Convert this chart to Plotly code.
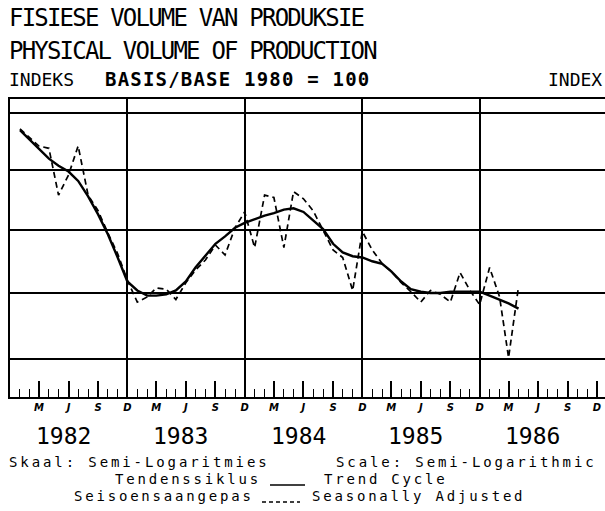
import math
import pandas as pd
import plotly.graph_objects as go

# ---------------- data ----------------
months = pd.date_range("1982-01-01", "1986-04-01", freq="MS")

trend_cycle = [
    113.5, 112.6, 111.8, 111.0, 110.4, 109.9, 109.1, 107.8, 106.3, 104.7, 102.8, 100.9,   # 1982
    100.2, 99.8, 99.8, 99.9, 100.2, 100.9, 102.0, 102.9, 103.9, 104.5, 105.2, 105.6,       # 1983
    105.9, 106.2, 106.4, 106.7, 106.8, 106.5, 105.8, 105.1, 103.9, 103.2, 102.9, 102.8,    # 1984
    102.5, 102.3, 101.7, 100.9, 100.3, 100.1, 100.0, 100.0, 100.1, 100.1, 100.1, 100.1,    # 1985
    99.8, 99.5, 99.2, 98.8,                                                                # 1986
]
seasonally_adjusted = [
    113.6, 112.8, 112.1, 111.9, 107.9, 109.6, 112.1, 107.9, 106.6, 104.8, 103.1, 101.0,   # 1982
    99.3, 99.7, 100.4, 100.3, 99.5, 100.8, 101.8, 102.6, 103.8, 103.0, 105.2, 106.5,       # 1983
    103.6, 107.9, 107.7, 103.6, 108.2, 107.6, 106.6, 105.0, 103.4, 102.8, 100.2, 104.9,    # 1984
    103.4, 102.3, 101.7, 100.8, 100.1, 99.3, 100.2, 99.9, 99.3, 101.6, 100.2, 99.1,        # 1985
    102.0, 99.7, 95.1, 100.5,                                                              # 1986
]

years = [1982, 1983, 1984, 1985, 1986]
quarter_letters = ["M", "J", "S", "D"]
quarter_months = [3, 6, 9, 12]
grid_values = [95, 100, 105, 110, 115]

# ---------------- geometry ----------------
W, H = 605, 511
L, R, T, B = 10, 0, 99, 114
PW, PH = W - L - R, H - T - B


def px(x):
    return (x - L) / PW


def py(y):
    return (H - B - y) / PH


x_ticks, x_text = [], []
for yr in years:
    for m, lab in zip(quarter_months, quarter_letters):
        d = pd.Timestamp(yr, m, 1)
        if d <= pd.Timestamp("1986-12-01"):
            x_ticks.append(d)
            x_text.append(lab)
dec_lines = [pd.Timestamp(yr, 12, 1) for yr in years[:-1]]

x_start = pd.Timestamp("1981-12-01")
x_end = x_start + pd.Timedelta(days=1851)

fig = go.Figure()
fig.add_trace(go.Scatter(
    x=months, y=seasonally_adjusted, mode="lines",
    line=dict(color="black", width=1.7, dash="6px,4px"), xaxis="x", yaxis="y",
    showlegend=False))
fig.add_trace(go.Scatter(
    x=months, y=trend_cycle, mode="lines",
    line=dict(color="black", width=2.4), xaxis="x", yaxis="y",
    showlegend=False))
# invisible helper trace so that the grid axis is drawn
fig.add_trace(go.Scatter(x=[months[0]], y=[trend_cycle[0]], mode="markers",
                         marker=dict(opacity=0), xaxis="x2", yaxis="y",
                         showlegend=False, hoverinfo="skip"))

fig.update_layout(
    width=W, height=H,
    margin=dict(l=L, r=R, t=T, b=B, pad=0),
    paper_bgcolor="white", plot_bgcolor="white",
    showlegend=False,
    xaxis=dict(
        type="date", range=[x_start, x_end],
        tickmode="array", tickvals=x_ticks, ticktext=x_text,
        ticks="inside", ticklen=16, tickwidth=1.5, tickcolor="black",
        tickfont=dict(family="DejaVu Sans", size=10, color="black", weight="bold", style="italic"),
        showgrid=False, zeroline=False,
        showline=True, linecolor="black", linewidth=2, mirror=True,
        minor=dict(dtick="M1", tick0="1981-12-01", ticks="inside", ticklen=8,
                   tickwidth=1.3, tickcolor="black", showgrid=False),
    ),
    xaxis2=dict(
        type="date", overlaying="x", matches="x", anchor="y",
        tickmode="array", tickvals=dec_lines, showticklabels=False, ticks="",
        showgrid=True, gridcolor="black", gridwidth=2, showline=False, zeroline=False,
    ),
    yaxis=dict(
        type="log", range=[math.log10(92.24), math.log10(116.27)],
        tickmode="array", tickvals=grid_values, showticklabels=False, ticks="",
        showgrid=True, gridcolor="black", gridwidth=2, zeroline=False,
        showline=True, linecolor="black", linewidth=2,
    ),
)

mono = "DejaVu Sans Mono"


def ann(text, x, y, size, xanchor="left", family=mono, spacing=None):
    if spacing is not None:
        text = f'<span style="letter-spacing:{spacing}px">{text}</span>'
    fig.add_annotation(text=text, x=px(x), y=py(y), xref="paper", yref="paper",
                       xanchor=xanchor, yanchor="middle", showarrow=False,
                       font=dict(family=family, size=size, color="black"))


ann("FISIESE VOLUME VAN PRODUKSIE", 7, 18, 24, spacing=-1.8)
ann("PHYSICAL VOLUME OF PRODUCTION", 7, 51, 24, spacing=-1.8)
ann("INDEKS", 7, 79, 18)
ann("<b>BASIS/BASE 1980 = 100</b>", 103, 79, 19, spacing=1.2)
ann("INDEX", 604, 79, 18, xanchor="right")

for yr in years:
    fig.add_annotation(text=str(yr), x=pd.Timestamp(yr, 5, 15), xref="x",
                       y=py(436), yref="paper", yanchor="middle", showarrow=False,
                       font=dict(family=mono, size=23, color="black"))

ann("Skaal: Semi-Logaritmies", 7, 462, 14, spacing=2.9)
ann("Scale: Semi-Logarithmic", 599, 462, 14, xanchor="right", spacing=2.9)
ann("Tendenssiklus", 263, 479, 14, xanchor="right", spacing=2.8)
ann("Trend Cycle", 322, 479, 14, spacing=2.8)
ann("Seisoensaangepas", 256, 496, 14, xanchor="right", spacing=2.8)
ann("Seasonally Adjusted", 310, 496, 14, spacing=2.8)

fig.add_shape(type="line", xref="paper", yref="paper", x0=px(270), x1=px(305),
              y0=py(485), y1=py(485), line=dict(color="black", width=1.5))
fig.add_shape(type="line", xref="paper", yref="paper", x0=px(262), x1=px(300),
              y0=py(502), y1=py(502), line=dict(color="black", width=1.5, dash="4px,3px"))

fig.write_html("out.html",
               config={"displayModeBar": False},
               post_script="document.body.style.margin='0';document.body.style.overflow='hidden';")
